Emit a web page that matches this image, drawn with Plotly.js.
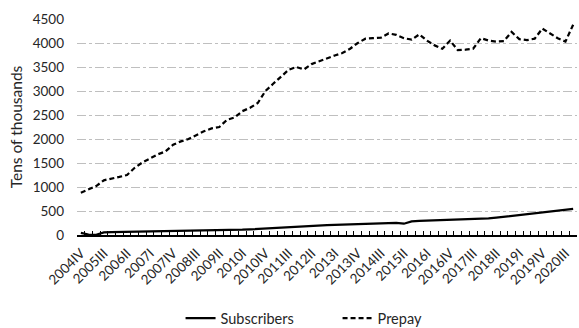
<!DOCTYPE html>
<html>
<head>
<meta charset="utf-8">
<script src="https://cdn.plot.ly/plotly-3.0.1.min.js"></script>
<style>
  html, body { margin: 0; padding: 0; background: #fff; }
  #chart { width: 579px; height: 328px; }
</style>
</head>
<body>
<div id="chart"></div>
<script>
// Quarterly categories, 2004 Q4 to 2020 Q4
const quarters = [
  "2004IV",
  "2005I", "2005II", "2005III", "2005IV",
  "2006I", "2006II", "2006III", "2006IV",
  "2007I", "2007II", "2007III", "2007IV",
  "2008I", "2008II", "2008III", "2008IV",
  "2009I", "2009II", "2009III", "2009IV",
  "2010I", "2010II", "2010III", "2010IV",
  "2011I", "2011II", "2011III", "2011IV",
  "2012I", "2012II", "2012III", "2012IV",
  "2013I", "2013II", "2013III", "2013IV",
  "2014I", "2014II", "2014III", "2014IV",
  "2015I", "2015II", "2015III", "2015IV",
  "2016I", "2016II", "2016III", "2016IV",
  "2017I", "2017II", "2017III", "2017IV",
  "2018I", "2018II", "2018III", "2018IV",
  "2019I", "2019II", "2019III", "2019IV",
  "2020I", "2020II", "2020III", "2020IV"
];

// Quarters that carry an axis label
const labelledQuarters = [
  "2004IV", "2005III", "2006II", "2007I", "2007IV", "2008III", "2009II",
  "2010I", "2010IV", "2011III", "2012II", "2013I", "2013IV", "2014III",
  "2015II", "2016I", "2016IV", "2017III", "2018II", "2019I", "2019IV", "2020III"
];

// Subscribers (tens of thousands)
const subscribers = [
  45, 10, 5, 55, 60, 62, 64, 66, 68, 70,
  72, 74, 76, 78, 80, 83, 86, 90, 95, 100,
  105, 110, 118, 128, 140, 150, 160, 168, 175, 182,
  190, 198, 205, 212, 218, 225, 232, 238, 242, 246,
  250, 255, 235, 285, 292, 298, 303, 308, 312, 316,
  320, 326, 335, 345, 360, 380, 395, 410, 425, 445,
  470, 495, 520, 530, 545
];

// Prepay (tens of thousands)
const prepay = [
  880, 950, 1020, 1140, 1170, 1210, 1250, 1400, 1510, 1600,
  1680, 1740, 1880, 1950, 2000, 2080, 2160, 2220, 2250, 2400,
  2450, 2580, 2650, 2750, 3000, 3150, 3300, 3440, 3500, 3450,
  3560, 3620, 3690, 3740, 3790, 3880, 4000, 4090, 4100, 4110,
  4200, 4170, 4100, 4070, 4180, 4050, 3950, 3880, 4050, 3850,
  3860, 3880, 4100, 4050, 4030, 4040, 4230, 4080, 4060, 4090,
  4300, 4200, 4100, 4030, 4380
];

const FONT = "Lato, 'Open Sans', sans-serif";
const TEXT = "#262626";
const xRange = [-0.5, quarters.length - 0.5];
const positions = quarters.map((q, i) => i);

const traces = [
  {
    x: quarters, y: subscribers, name: "Subscribers",
    type: "scatter", mode: "lines",
    line: { color: "#000000", width: 2.25 }
  },
  {
    x: quarters, y: prepay, name: "Prepay",
    type: "scatter", mode: "lines",
    line: { color: "#000000", width: 2.25, dash: "5px,3px" }
  },
  // transparent copy on the overlaid axis so its boundary ticks get drawn
  {
    x: positions, y: subscribers, xaxis: "x2", yaxis: "y",
    type: "scatter", mode: "lines",
    line: { color: "rgba(0,0,0,0)", width: 0 },
    showlegend: false, hoverinfo: "skip"
  }
];

const layout = {
  width: 579, height: 328,
  margin: { l: 77, r: 2, t: 19, b: 93 },
  paper_bgcolor: "#ffffff", plot_bgcolor: "#ffffff",
  font: { family: FONT, color: TEXT, size: 13.5 },
  showlegend: true,
  legend: {
    orientation: "h",
    xref: "container", yref: "container",
    x: 0.583, xanchor: "center",
    y: 0.03, yanchor: "middle",
    font: { family: FONT, size: 14.5, color: TEXT },
    entrywidth: 112, entrywidthmode: "pixels",
    tracegroupgap: 0
  },
  xaxis: {
    type: "category",
    range: xRange,
    tickmode: "array",
    tickvals: labelledQuarters,
    ticktext: labelledQuarters,
    tickangle: -45,
    ticks: "",
    ticklabelstandoff: 3,
    showgrid: false,
    zeroline: false,
    showline: true, linecolor: "#000000", linewidth: 2,
    tickfont: { family: FONT, size: 13.5, color: TEXT },
    fixedrange: true
  },
  // category boundary tick marks drawn on an overlaid axis
  xaxis2: {
    overlaying: "x", anchor: "y", side: "bottom",
    range: xRange,
    tickmode: "linear", tick0: -0.5, dtick: 1,
    ticks: "inside", ticklen: 4, tickwidth: 1, tickcolor: "#000000",
    showticklabels: false, showgrid: false, zeroline: false, showline: false,
    fixedrange: true
  },
  yaxis: {
    range: [0, 4500],
    tickmode: "linear", tick0: 0, dtick: 500,
    showgrid: true, gridcolor: "#bfbfbf", gridwidth: 1, griddash: "dashdot",
    zeroline: false, showline: false, ticks: "",
    ticklabelstandoff: 12,
    tickfont: { family: FONT, size: 13.5, color: TEXT },
    title: { text: "Tens of thousands", font: { family: FONT, size: 15.5, color: TEXT }, standoff: 6 },
    fixedrange: true
  }
};

Plotly.newPlot("chart", traces, layout, { displayModeBar: false, staticPlot: true });
</script>
</body>
</html>
